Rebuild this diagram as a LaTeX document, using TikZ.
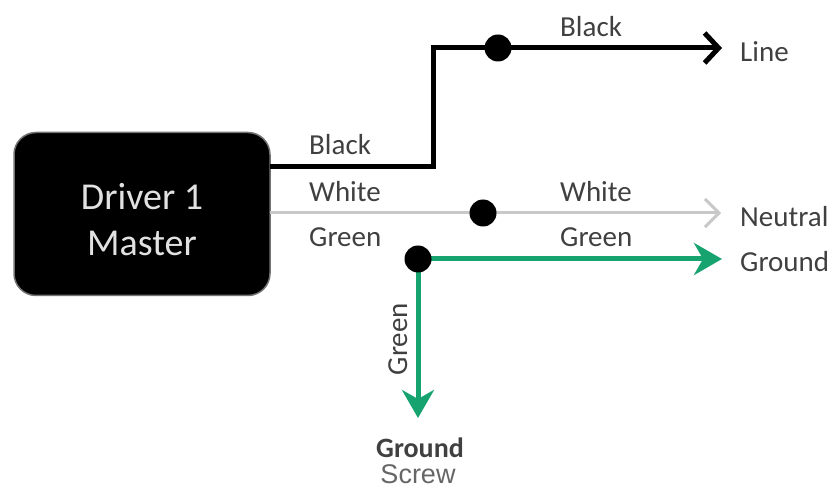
\documentclass[tikz,border=0pt]{standalone}
\usepackage{fontspec}
\setmainfont{Carlito}
\newfontfamily\screwfont{Liberation Sans}
\usetikzlibrary{arrows.meta}
\definecolor{wgreen}{RGB}{22,163,112}
\definecolor{wgray}{RGB}{200,200,200}
\definecolor{lbl}{RGB}{64,64,64}
\definecolor{boxtxt}{RGB}{225,225,225}
\begin{document}
\begin{tikzpicture}[x=1pt,y=-1pt,
 lab/.style={anchor=base west,inner sep=0pt,text=lbl,font=\fontsize{29}{30}\selectfont},
 dot/.style={circle,fill=black,inner sep=0pt,minimum size=27pt},
 blk/.style={line width=5pt,black,-{Straight Barb[length=14pt,width=30pt]}},
 wht/.style={line width=3pt,wgray,-{Straight Barb[length=14pt,width=28pt]}},
 grn/.style={line width=5pt,wgreen,-{Stealth[length=28pt,width=32pt,inset=9pt]}},
 drvbox/.style={draw=black!55,line width=1.5pt,fill=black,rounded corners=22pt,minimum width=256pt,minimum height=163pt},
 drvtext/.style={text=boxtxt,align=center,inner sep=0pt,font=\fontsize{38}{46}\selectfont},
]
\useasboundingbox (0,0) rectangle (836,489);
\node[drvbox] (drv) at (142,214) {};
\node[drvtext] (drvt) at (142,220) {Driver 1\\Master};
% junction coordinates
\coordinate (bA) at (270,167);
\coordinate (bK) at (433,48);
\coordinate (bJ) at (498,48);
\coordinate (bE) at (722,48);
\coordinate (wA) at (270,213);
\coordinate (wJ) at (483,213);
\coordinate (wE) at (721,213);
\coordinate (gJ) at (418,259);
\coordinate (gE) at (722,259);
\coordinate (gS) at (418,418);
% wires
\draw[blk] (bA) -| (bK) -- (bJ) -- (bE);
\draw[wht] (wA) -- (wJ) -- (wE);
\draw[grn] (gJ) -- (gE);
\draw[grn] (gJ) -- (gS);
% dots
\node[dot] (dB) at (bJ) {};
\node[dot] (dW) at (wJ) {};
\node[dot] (dG) at (gJ) {};
% labels
\node[lab] (lb1) at (309,155) {Black};
\node[lab] (lw1) at (309,202) {White};
\node[lab] (lg1) at (309,247) {Green};
\node[lab] (lb2) at (560,37) {Black};
\node[lab] (lw2) at (560,202) {White};
\node[lab] (lg2) at (560,247) {Green};
\node[lab] (tLine) at (740,62) {Line};
\node[lab] (tNeu) at (740,227) {Neutral};
\node[lab] (tGnd) at (740,272) {Ground};
\node[lab,anchor=base,rotate=90] (lgv) at (407,339) {Green};
\node[lab,anchor=base,font=\fontsize{28}{30}\selectfont\bfseries] (tGs) at (420,457) {Ground};
\node[anchor=base,inner sep=0pt,text=black!60,font=\screwfont\fontsize{27}{30}\selectfont] (tSc) at (418,483) {Screw};
\end{tikzpicture}
\end{document}
